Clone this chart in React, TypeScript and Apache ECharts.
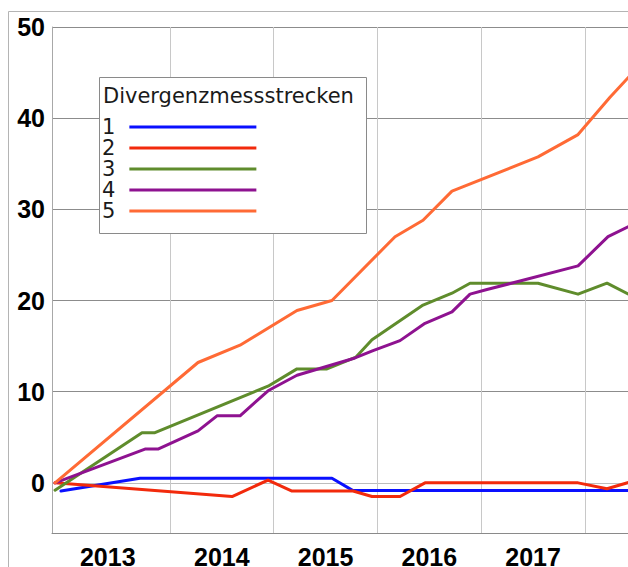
import React, { useEffect, useRef } from "react";
import * as echarts from "echarts";

// ---- data (decimal years / values) ----
const seriesNames = ["1", "2", "3", "4", "5"];
const seriesColors = ["#0a10ff", "#f22a0c", "#5f8c2c", "#8e1290", "#ff6a35"];

const s1Years = [2012.949, 2013.711, 2015.561, 2015.764, 2018.42];
const s1Values = [-0.9, 0.5, 0.5, -0.85, -0.85];

const s2Years = [2012.892, 2014.598, 2014.945, 2015.176, 2015.764, 2015.947, 2016.217, 2016.458, 2017.933, 2018.212, 2018.42];
const s2Values = [0, -1.5, 0.3, -0.9, -0.9, -1.5, -1.5, 0, 0, -0.65, 0.05];

const s3Years = [2012.892, 2013.73, 2013.855, 2014.945, 2015.224, 2015.513, 2015.793, 2015.947, 2016.439, 2016.718, 2016.892, 2017.547, 2017.933, 2018.212, 2018.42];
const s3Values = [-0.8, 5.5, 5.5, 10.6, 12.5, 12.5, 13.8, 15.7, 19.5, 20.8, 21.9, 21.9, 20.7, 21.9, 20.7];

const s4Years = [2012.892, 2013.759, 2013.884, 2014.27, 2014.453, 2014.675, 2014.945, 2015.224, 2015.783, 2015.957, 2016.217, 2016.458, 2016.718, 2016.892, 2017.055, 2017.933, 2018.222, 2018.42];
const s4Values = [0, 3.7, 3.7, 5.7, 7.35, 7.35, 10.1, 11.8, 13.7, 14.5, 15.6, 17.5, 18.75, 20.7, 21.2, 23.8, 27.0, 28.1];

const s5Years = [2012.892, 2014.27, 2014.675, 2015.224, 2015.561, 2016.169, 2016.439, 2016.718, 2017.547, 2017.933, 2018.241, 2018.42];
const s5Values = [0, 13.2, 15.1, 18.9, 20.0, 27.0, 28.8, 32.0, 35.75, 38.2, 42.3, 44.5];

const yTickValues = [0, 10, 20, 30, 40, 50];
const xGridYears = [2014, 2015, 2016, 2017, 2018];
const xLabelPositions = [2013.4, 2014.5, 2015.5, 2016.5, 2017.5];

const legendTitle = "Divergenzmessstrecken";

const allYears = [s1Years, s2Years, s3Years, s4Years, s5Years];
const allValues = [s1Values, s2Values, s3Values, s4Values, s5Values];

const X_MIN = 2012.8627;
const X_MAX = 2018.8964;

export default function App() {
  const ref = useRef<HTMLDivElement>(null);

  useEffect(() => {
    if (!ref.current) return;
    const chart = echarts.init(ref.current, undefined, { renderer: "svg" });

    const series = seriesNames.map((name, i) => ({
      name,
      type: "line",
      symbol: "none",
      data: allYears[i].map((y, j) => [y, allValues[i][j]]),
      lineStyle: { width: 3, color: seriesColors[i], cap: "round", join: "round" },
      itemStyle: { color: seriesColors[i] },
      z: 2 + i,
    }));

    chart.setOption({
      animation: false,
      backgroundColor: "#ffffff",
      grid: {
        left: 52,
        right: 22,
        top: 27,
        bottom: 34,
        containLabel: false,
        outerBoundsMode: "none",
      },
      xAxis: {
        type: "value",
        min: X_MIN,
        max: X_MAX,
        axisLine: { show: true, onZero: false, lineStyle: { color: "#8a8a8a", width: 1 } },
        axisTick: { show: false, customValues: xGridYears },
        splitLine: { show: true, lineStyle: { color: "#c8c8c8", width: 1 } },
        axisLabel: {
          customValues: xLabelPositions,
          formatter: (v: number) => String(Math.floor(v)),
          margin: 11,
          color: "#000",
          fontFamily: "Liberation Sans",
          fontWeight: "bold",
          fontSize: 25,
        },
      },
      yAxis: {
        type: "value",
        min: -5.5,
        max: 50,
        axisLine: { show: true, onZero: false, lineStyle: { color: "#a8a8a8", width: 1 } },
        axisTick: { show: false, customValues: yTickValues },
        splitLine: {
          show: true,
          lineStyle: { color: ["#bdbdbd", "#8c8c8c", "#8c8c8c", "#8c8c8c", "#8c8c8c", "#8c8c8c"], width: 1 },
        },
        axisLabel: {
          customValues: yTickValues,
          margin: 7,
          padding: [5, 0, 0, 0],
          color: "#000",
          fontFamily: "Liberation Sans",
          fontWeight: "bold",
          fontSize: 25,
        },
      },
      legend: {
        data: seriesNames,
        orient: "vertical",
        left: 102,
        top: 116.5,
        padding: 0,
        itemGap: 0,
        align: "right",
        icon: "rect",
        itemWidth: 127,
        itemHeight: 3,
        z: 10,
        textStyle: {
          fontFamily: "DejaVu Sans",
          fontSize: 21,
          lineHeight: 21,
          color: "#1a1a1a",
          padding: [0, 9, 0, 0],
        },
      },
      graphic: [
        {
          type: "rect",
          z: 0,
          silent: true,
          shape: { x: 8.5, y: 11.5, width: 900, height: 900 },
          style: { fill: "none", stroke: "#b4b4b4", lineWidth: 1 },
        },
        {
          type: "rect",
          z: 8,
          silent: true,
          shape: { x: 99.5, y: 77.5, width: 267, height: 156 },
          style: { fill: "#ffffff", stroke: "#8a8a8a", lineWidth: 1 },
        },
        {
          type: "text",
          z: 9,
          silent: true,
          x: 103,
          y: 96,
          style: {
            text: legendTitle,
            fontFamily: "DejaVu Sans",
            fontSize: 21,
            fill: "#1a1a1a",
            verticalAlign: "middle",
            align: "left",
          },
        },
      ],
      series,
    });

    return () => chart.dispose();
  }, []);

  return (
    <div style={{ position: "fixed", left: 0, top: 0, width: 628, height: 567, overflow: "hidden", background: "#fff" }}>
      <div ref={ref} style={{ width: 700, height: 567 }} />
    </div>
  );
}
